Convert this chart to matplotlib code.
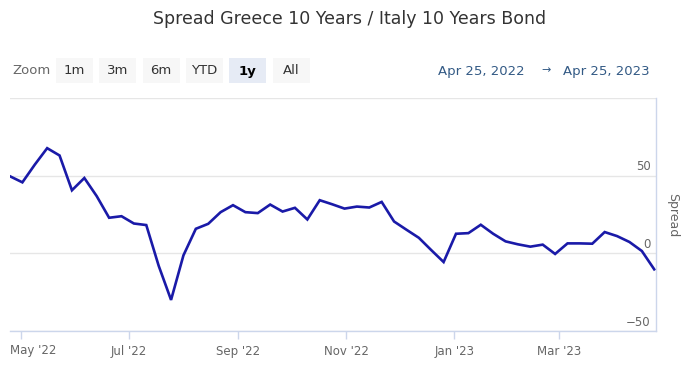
import numpy as np
import pandas as pd
import matplotlib
matplotlib.use("Agg")
import matplotlib.pyplot as plt
import matplotlib.dates as mdates
from matplotlib.patches import Rectangle
from matplotlib.transforms import blended_transform_factory

# weekly spread values (basis points), Apr 25 2022 -> Apr 24 2023
dates = pd.date_range("2022-04-25", periods=53, freq="7D")
spread = [49.6, 45.7, 57.1, 67.7, 63.0, 40.6, 48.5, 36.8, 22.9, 23.9,
          19.2, 18.2, -8.0, -30.0, -1.3, 15.8, 19.0, 26.5, 31.0, 26.5,
          25.9, 31.4, 26.9, 29.3, 21.8, 34.2, 31.6, 28.8, 30.1, 29.5,
          33.1, 20.5, 15.2, 10.0, 2.1, -5.6, 12.6, 13.0, 18.4, 12.6,
          7.7, 5.8, 4.3, 5.6, -0.4, 6.4, 6.4, 6.2, 13.7, 11.1,
          7.3, 1.5, -10.3]
yticks = [-50, 0, 50, 100]
ytick_labels = ["\u221250", "0", "50", ""]
xticks = pd.to_datetime(["2022-05-01", "2022-07-01", "2022-09-01",
                         "2022-11-01", "2023-01-01", "2023-03-01"])
xtick_labels = ["May '22", "Jul '22", "Sep '22", "Nov '22", "Jan '23", "Mar '23"]
title = "Spread Greece 10 Years / Italy 10 Years Bond"
buttons = ["1m", "3m", "6m", "YTD", "1y", "All"]
selected = "1y"
range_from = "Apr 25, 2022"
range_to = "Apr 25, 2023"

W, H = 700, 377
fig = plt.figure(figsize=(W / 100, H / 100), dpi=100)
fig.patch.set_facecolor("white")

def fx(x):
    return x / W

def fy(y):
    return 1 - y / H

left, right, top, bottom = 10, 656, 98, 331
ax = fig.add_axes([fx(left), fy(bottom), fx(right - left), (bottom - top) / H])
ax.plot(dates, spread, color="#1a1aa8", lw=1.9, solid_joinstyle="miter")
ax.set_xlim(pd.Timestamp("2022-04-25"), pd.Timestamp("2023-04-25"))
ax.set_ylim(-50, 100)

for v in yticks:
    ax.axhline(v, color="#e6e6e6", lw=1, zorder=0)
trans = blended_transform_factory(ax.transAxes, ax.transData)
for v, lab in zip(yticks, ytick_labels):
    ax.text(0.992, v + 1.5, lab, transform=trans, ha="right", va="bottom",
            fontsize=8.5, color="#666666")

ax.set_yticks([])
for s in ["top", "left"]:
    ax.spines[s].set_visible(False)
ax.spines["right"].set_color("#ccd6eb")
ax.spines["bottom"].set_color("#ccd6eb")
ax.spines["right"].set_linewidth(1)
ax.spines["bottom"].set_linewidth(1)
ax.set_xticks(xticks)
# first label is kept inside the figure, like the original chart does
ax.set_xticklabels([""] + xtick_labels[1:])
ax.tick_params(axis="x", length=6, width=1, color="#ccd6eb", labelsize=8.5,
               labelcolor="#666666", pad=4)
fig.text(fx(10), fy(344), xtick_labels[0], ha="left", va="top",
         fontsize=8.5, color="#666666")

fig.text(fx(673), fy(215), "Spread", rotation=270, ha="center", va="center",
         fontsize=9, color="#666666")

fig.text(0.5, fy(19), title, ha="center", va="center", fontsize=12.5,
         color="#333333")

# range selector
fig.text(fx(12), fy(71), "Zoom", ha="left", va="center", fontsize=9.5,
         color="#666666")
bx = 56
for b in buttons:
    sel = b == selected
    fig.patches.append(Rectangle((fx(bx), fy(83)), fx(37), 25 / H,
                                 transform=fig.transFigure,
                                 facecolor="#e6ebf5" if sel else "#f7f7f7",
                                 edgecolor="none"))
    fig.text(fx(bx + 18.5), fy(71), b, ha="center", va="center", fontsize=9.5,
             color="#000000" if sel else "#333333",
             fontweight="bold" if sel else "normal")
    bx += 43.3

fig.text(fx(650), fy(71), range_to, ha="right", va="center", fontsize=9.5,
         color="#335a85")
fig.text(fx(546), fy(70), "\u2192", ha="center", va="center", fontsize=8,
         color="#335a85")
fig.text(fx(525), fy(71), range_from, ha="right", va="center", fontsize=9.5,
         color="#335a85")

fig.savefig("out.png", dpi=100)
